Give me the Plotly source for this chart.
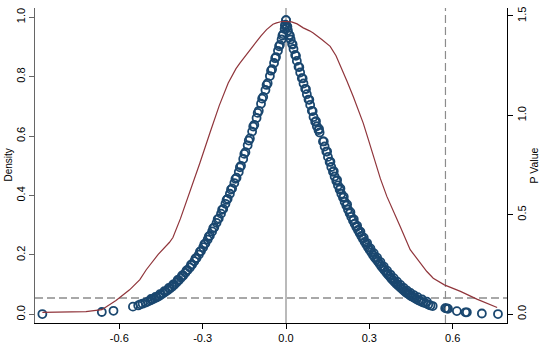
import plotly.graph_objects as go

# ---- data ----
left_x = [-0.877, -0.663, -0.621, -0.551, -0.532, -0.524, -0.516, -0.505, -0.497, -0.489,
          -0.482, -0.474, -0.466, -0.458, -0.450, -0.442, -0.434, -0.426, -0.418, -0.410,
          -0.402, -0.394, -0.386, -0.378, -0.370, -0.362, -0.354, -0.346, -0.338, -0.330,
          -0.322, -0.314, -0.306, -0.298, -0.290, -0.282, -0.274, -0.266, -0.258, -0.250,
          -0.242, -0.234, -0.226, -0.218, -0.210, -0.202, -0.194, -0.186, -0.178, -0.170,
          -0.162, -0.154, -0.146, -0.138, -0.130, -0.122, -0.114, -0.106, -0.098, -0.090,
          -0.082, -0.074, -0.066, -0.058, -0.050, -0.043, -0.036, -0.029, -0.022, -0.016,
          -0.010, -0.005, -0.002, 0.000]
left_p = [0.001, 0.008, 0.012, 0.026, 0.030, 0.034, 0.036, 0.040, 0.043, 0.047,
          0.050, 0.053, 0.057, 0.061, 0.066, 0.071, 0.076, 0.081, 0.087, 0.093,
          0.100, 0.107, 0.115, 0.123, 0.131, 0.140, 0.149, 0.158, 0.168, 0.179,
          0.190, 0.201, 0.213, 0.226, 0.239, 0.252, 0.265, 0.279, 0.293, 0.308,
          0.323, 0.339, 0.355, 0.372, 0.389, 0.406, 0.424, 0.442, 0.460, 0.479,
          0.500, 0.523, 0.546, 0.569, 0.592, 0.615, 0.638, 0.661, 0.685, 0.709,
          0.732, 0.755, 0.778, 0.802, 0.825, 0.846, 0.866, 0.887, 0.907, 0.925,
          0.943, 0.960, 0.975, 0.990]

# second row of circles along the left band
left_x2 = [-0.486, -0.470, -0.454, -0.438, -0.422, -0.406, -0.390, -0.374, -0.358, -0.342,
           -0.326, -0.310, -0.294, -0.278, -0.262, -0.246, -0.230, -0.214, -0.198, -0.182,
           -0.166, -0.150, -0.134, -0.118, -0.102, -0.086, -0.070, -0.054, -0.039, -0.025,
           -0.013, -0.004]
left_p2 = [0.052, 0.059, 0.068, 0.078, 0.089, 0.101, 0.116, 0.131, 0.148, 0.167,
           0.188, 0.211, 0.236, 0.262, 0.290, 0.320, 0.352, 0.385, 0.420, 0.456,
           0.495, 0.540, 0.585, 0.632, 0.678, 0.726, 0.772, 0.820, 0.862, 0.902,
           0.938, 0.972]

right_x = [0.000, 0.003, 0.007, 0.012, 0.017, 0.022, 0.027, 0.033, 0.039, 0.045,
           0.051, 0.057, 0.063, 0.069, 0.075, 0.081, 0.087, 0.093, 0.099, 0.105,
           0.111, 0.117, 0.121, 0.133, 0.139, 0.145, 0.151, 0.157, 0.163, 0.169,
           0.175, 0.181, 0.187, 0.193, 0.199, 0.205, 0.211, 0.217, 0.223, 0.229,
           0.235, 0.241, 0.247, 0.253, 0.259, 0.265, 0.271, 0.277, 0.283, 0.289,
           0.295, 0.301, 0.307, 0.313, 0.319, 0.325, 0.331, 0.337, 0.343, 0.349,
           0.355, 0.361, 0.367, 0.373, 0.379, 0.385, 0.391, 0.397, 0.403, 0.409,
           0.415, 0.421, 0.427, 0.433, 0.439, 0.445, 0.451, 0.457, 0.463, 0.470,
           0.478, 0.486, 0.494, 0.503, 0.512, 0.520, 0.528, 0.573, 0.578, 0.583,
           0.615, 0.646, 0.651, 0.705, 0.763]
right_p = [0.990, 0.970, 0.955, 0.940, 0.925, 0.910, 0.893, 0.873, 0.853, 0.833,
           0.814, 0.795, 0.777, 0.759, 0.741, 0.723, 0.705, 0.685, 0.664, 0.648,
           0.633, 0.620, 0.612, 0.582, 0.565, 0.548, 0.530, 0.513, 0.496, 0.480,
           0.464, 0.449, 0.434, 0.420, 0.406, 0.393, 0.379, 0.366, 0.353, 0.340,
           0.328, 0.316, 0.305, 0.294, 0.284, 0.274, 0.264, 0.254, 0.244, 0.235,
           0.226, 0.217, 0.209, 0.200, 0.192, 0.185, 0.178, 0.170, 0.162, 0.155,
           0.148, 0.141, 0.134, 0.128, 0.121, 0.115, 0.109, 0.103, 0.098, 0.093,
           0.088, 0.083, 0.078, 0.073, 0.069, 0.065, 0.061, 0.058, 0.055, 0.051,
           0.047, 0.043, 0.040, 0.037, 0.033, 0.030, 0.028, 0.021, 0.020, 0.019,
           0.011, 0.007, 0.007, 0.003, 0.001]

# second row of circles along the right band
right_x2 = [0.005, 0.014, 0.024, 0.036, 0.048, 0.060, 0.072, 0.084, 0.096, 0.108,
            0.119, 0.136, 0.148, 0.160, 0.172, 0.184, 0.196, 0.208, 0.220, 0.232,
            0.244, 0.256, 0.268, 0.280, 0.292, 0.304, 0.316, 0.328, 0.340, 0.352,
            0.364, 0.376, 0.388, 0.400, 0.412, 0.424, 0.436, 0.448, 0.460, 0.474,
            0.490, 0.507]
right_p2 = [0.968, 0.938, 0.908, 0.870, 0.832, 0.794, 0.758, 0.722, 0.684, 0.650,
            0.624, 0.582, 0.548, 0.514, 0.482, 0.452, 0.424, 0.396, 0.370, 0.344,
            0.320, 0.298, 0.278, 0.258, 0.240, 0.222, 0.206, 0.191, 0.176, 0.161,
            0.147, 0.134, 0.122, 0.110, 0.099, 0.089, 0.080, 0.072, 0.065, 0.058,
            0.050, 0.043]

dens_x = [-0.877, -0.80, -0.72, -0.663, -0.612, -0.563, -0.526, -0.503, -0.46, -0.42,
          -0.407, -0.38, -0.347, -0.31, -0.274, -0.24, -0.208, -0.18, -0.166, -0.14,
          -0.112, -0.09, -0.07, -0.047, -0.034, -0.015, 0.0, 0.02, 0.04, 0.062,
          0.085, 0.098, 0.13, 0.159, 0.18, 0.200, 0.22, 0.242, 0.26, 0.278,
          0.296, 0.314, 0.34, 0.363, 0.39, 0.411, 0.447, 0.471, 0.507, 0.53,
          0.570, 0.628, 0.687, 0.760]
dens_y = [0.008, 0.009, 0.012, 0.022, 0.068, 0.122, 0.173, 0.223, 0.30, 0.36,
          0.385, 0.48, 0.609, 0.76, 0.911, 1.05, 1.163, 1.235, 1.263, 1.31,
          1.364, 1.40, 1.431, 1.458, 1.465, 1.472, 1.472, 1.47, 1.46, 1.44,
          1.425, 1.414, 1.38, 1.347, 1.30, 1.23, 1.17, 1.095, 1.03, 0.961,
          0.88, 0.793, 0.68, 0.592, 0.51, 0.441, 0.324, 0.28, 0.214, 0.18,
          0.147, 0.114, 0.075, 0.033]

x_ticks = [-0.6, -0.3, 0.0, 0.3, 0.6]
x_ticktext = ["-0.6", "-0.3", "0.0", "0.3", "0.6"]
y_ticks = [0.0, 0.2, 0.4, 0.6, 0.8, 1.0]
y_ticktext = ["0.0", "0.2", "0.4", "0.6", "0.8", "1.0"]
y2_ticks = [0.0, 0.5, 1.0, 1.5]
y2_ticktext = ["0.0", "0.5", "1.0", "1.5"]

observed_effect = 0.574
p_threshold = 0.055
zero_line = 0.0

FONT = "Liberation Sans, Arial, sans-serif"

pts_x = left_x + left_x2 + right_x + right_x2
pts_p = left_p + left_p2 + right_p + right_p2

fig = go.Figure()
fig.add_trace(go.Scatter(
    x=pts_x, y=pts_p, mode="markers",
    marker=dict(symbol="circle-open", size=8, color="#1a476f",
                line=dict(width=1.8, color="#1a476f")),
    yaxis="y", showlegend=False, hoverinfo="skip"))
fig.add_trace(go.Scatter(
    x=dens_x, y=dens_y, mode="lines",
    line=dict(color="#90353b", width=1.2),
    yaxis="y2", showlegend=False, hoverinfo="skip"))

fig.add_shape(type="line", xref="x", yref="paper", x0=zero_line, x1=zero_line,
              y0=0, y1=1, line=dict(color="#8c8c8c", width=1.2), layer="below")
fig.add_shape(type="line", xref="x", yref="paper", x0=observed_effect, x1=observed_effect,
              y0=0, y1=1, line=dict(color="#8c8c8c", width=1.2, dash="8px,4px"), layer="below")
fig.add_shape(type="line", xref="paper", yref="y", x0=0, x1=1,
              y0=p_threshold, y1=p_threshold,
              line=dict(color="#8c8c8c", width=1.5, dash="8px,4px"), layer="below")

fig.add_annotation(text="Density", xref="paper", yref="paper", x=0, y=0.5,
                   xanchor="center", yanchor="middle", xshift=-27, textangle=-90,
                   showarrow=False, font=dict(family=FONT, size=10, color="black"))
fig.add_annotation(text="P Value", xref="paper", yref="paper", x=1, y=0.5,
                   xanchor="center", yanchor="middle", xshift=26, textangle=-90,
                   showarrow=False, font=dict(family=FONT, size=10.5, color="black"))

fig.update_layout(
    width=543, height=347,
    margin=dict(l=35, r=36, t=8, b=24),
    paper_bgcolor="white", plot_bgcolor="white",
    font=dict(family=FONT, size=11, color="black"),
    xaxis=dict(range=[-0.9035, 0.7955], tickvals=x_ticks, ticktext=x_ticktext,
               showline=True, linecolor="black", linewidth=1, ticks="outside",
               ticklen=5, tickcolor="black", showgrid=False, zeroline=False,
               automargin=False),
    yaxis=dict(range=[-0.029, 1.031], tickvals=y_ticks, ticktext=y_ticktext,
               tickangle=-90, showline=True, linecolor="#666666", linewidth=1,
               ticks="outside", ticklen=5, tickcolor="#666666", showgrid=False,
               zeroline=False, automargin=False),
    yaxis2=dict(range=[-0.045, 1.540], tickvals=y2_ticks, ticktext=y2_ticktext,
                tickangle=-90, overlaying="y", side="right", showline=True,
                linecolor="black", linewidth=1, ticks="outside", ticklen=5,
                tickcolor="black", showgrid=False, zeroline=False, automargin=False),
)

fig.write_html("out.html")
